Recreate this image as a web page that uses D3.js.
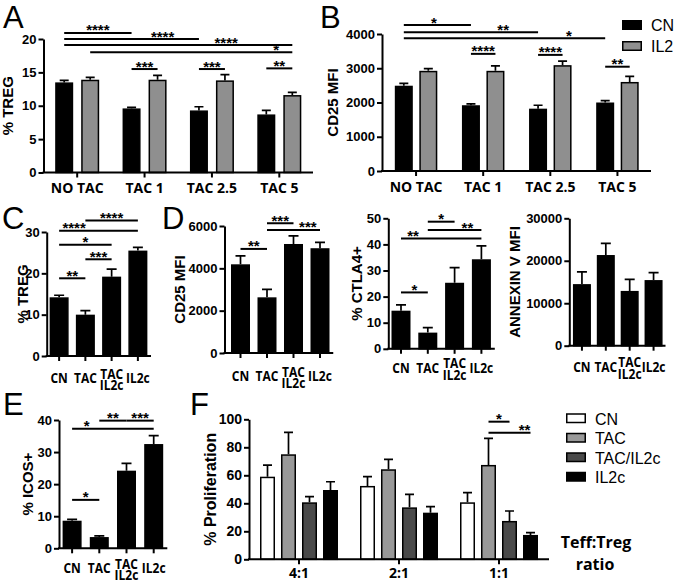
<!DOCTYPE html>
<html><head><meta charset="utf-8">
<script src="https://cdn.jsdelivr.net/npm/d3@7"></script>
<style>body{margin:0;background:#fff}svg{display:block}</style>
</head><body><svg id="c" width="677" height="584"></svg>
<script>
// ---------- DATA ----------
const catsTac = ["NO TAC", "TAC 1", "TAC 2.5", "TAC 5"];
const seriesAB = ["CN", "IL2"];
const aCN = [13.5, 9.6, 9.3, 8.7];
const aCNErr = [0.3, 0.15, 0.55, 0.6];
const aIL2 = [13.9, 13.9, 13.8, 11.6];
const aIL2Err = [0.35, 0.65, 0.85, 0.4];
const aTicks = [0, 5, 10, 15, 20];
// [group1, series1, group2, series2, level, label, labelPos]
const sigA = [[0,0,1,0,20.9,"****",0.5],[0,0,2,0,20.0,"****",0.73],[0,0,3,1,19.1,"****",0.71],[0,1,3,1,18.0,"*",0.92],[1,0,1,1,15.5,"***",0.5],[2,0,2,1,15.5,"***",0.5],[3,0,3,1,15.6,"**",0.5]];

const bCN = [2490, 1920, 1820, 2000];
const bCNErr = [70, 40, 100, 55];
const bIL2 = [2925, 2925, 3090, 2600];
const bIL2Err = [65, 145, 120, 160];
const bTicks = [0, 1000, 2000, 3000, 4000];
const sigB = [[0,0,1,0,4260,"*",0.45],[0,0,2,0,4050,"**",0.74],[0,0,3,0,3875,"*",0.82],[1,0,1,1,3420,"****",0.5],[2,0,2,1,3390,"****",0.5],[3,0,3,1,3045,"**",0.5]];

const cats4 = ["CN", "TAC", "TAC\nIL2c", "IL2c"];
const cTreg = [14.2, 10.0, 19.2, 25.5];
const cTregErr = [0.5, 1.0, 1.8, 0.8];
const cTicks = [0, 10, 20, 30];
const sigC = [[0,0,1,0,18.8,"**",0.5],[1,0,2,0,23.4,"***",0.5],[0,0,2,0,26.9,"*",0.5],[0,0,3,0,30.3,"****",0.19],[1,0,3,0,32.8,"****",0.5]];

const dCD25 = [4190, 2630, 5150, 4950];
const dCD25Err = [400, 380, 380, 280];
const dTicks = [0, 2000, 4000, 6000];
const sigD = [[0,0,1,0,4917,"**",0.5],[1,0,2,0,6130,"***",0.5],[1,0,3,0,5815,"***",0.77]];

const ctla4 = [14.6, 6.2, 25.3, 34.3];
const ctla4Err = [2.2, 1.9, 5.8, 5.1];
const ctTicks = [0, 10, 20, 30, 40, 50];
const sigCt = [[0,0,1,0,21.6,"*",0.5],[0,0,3,0,42.3,"**",0.15],[1,0,2,0,48.7,"*",0.5],[1,0,3,0,45.5,"**",0.74]];

const annexin = [14500, 21350, 12900, 15450];
const annexinErr = [2900, 2750, 2700, 1750];
const anTicks = [0, 10000, 20000, 30000];

const icos = [8.6, 3.5, 24.2, 32.5];
const icosErr = [0.4, 0.35, 2.3, 2.6];
const eTicks = [0, 10, 20, 30, 40];
const sigE = [[0,0,1,0,15.1,"*",0.5],[0,0,3,0,37.3,"*",0.18],[1,0,2,0,39.8,"**",0.5],[2,0,3,0,39.8,"***",0.5]];

const ratios = ["4:1", "2:1", "1:1"];
const seriesF = ["CN", "TAC", "TAC/IL2c", "IL2c"];
const fCN = [59, 52.4, 40.7];
const fCNErr = [8.2, 6.6, 6.9];
const fTAC = [75, 64.3, 67.4];
const fTACErr = [15.7, 7.1, 19];
const fTACIL2c = [40.7, 37.1, 27.4];
const fTACIL2cErr = [4.0, 9.3, 7.1];
const fIL2c = [49.5, 33.3, 17.4];
const fIL2cErr = [5.9, 4.3, 1.6];
const fTicks = [0, 20, 40, 60, 80, 100];
const sigF = [[2,1,2,2,98.3,"*",0.5],[2,1,2,3,90.4,"**",0.86]];

// ---------- DRAW ----------
const svg = d3.select("#c");
const AR = "'Liberation Sans', Arial, sans-serif";
const OS = "'Open Sans', sans-serif";

function condense(sel, k) {
  sel.each(function () {
    const w = this.getComputedTextLength();
    d3.select(this).attr("textLength", w * k).attr("lengthAdjust", "spacingAndGlyphs");
  });
}

function panel(p) {
  const n = p.cats.length;
  const x = d3.scaleBand().domain(d3.range(n)).range([p.x0, p.x1]);
  const y = d3.scaleLinear().domain([0, p.max]).range([p.y0, p.y1]);
  const m = p.series.length;
  const step = p.w + (p.gap || 0);
  const off = k => (k - (m - 1) / 2) * step;
  const cx = i => x(i) + x.bandwidth() / 2;
  const g = svg.append("g");
  p.series.forEach((s, k) => {
    g.selectAll(null).data(s.vals).enter().append("rect")
      .attr("x", (d, i) => cx(i) + off(k) - p.w / 2 + 0.75)
      .attr("width", p.w - 1.5)
      .attr("y", d => y(d) + 0.75)
      .attr("height", d => y(0) - y(d) - 0.75)
      .attr("fill", s.fill).attr("stroke", "#000").attr("stroke-width", 1.5);
    g.selectAll(null).data(s.vals).enter().append("path")
      .attr("d", (d, i) => {
        const xx = cx(i) + off(k), yt = y(d + s.errs[i]);
        return `M${xx},${y(d)}V${yt}M${xx - p.cap / 2},${yt}H${xx + p.cap / 2}`;
      })
      .attr("stroke", "#000").attr("stroke-width", 1.7).attr("fill", "none");
  });
  const ya = d3.axisLeft(y).tickValues(p.ticks).tickSize(5).tickSizeOuter(0).tickPadding(2).tickFormat(d3.format("d"));
  const yg = g.append("g").attr("transform", `translate(${p.ax},0)`).call(ya);
  yg.select(".domain").attr("stroke-width", 2).attr("stroke", "#000");
  yg.selectAll(".tick line").attr("stroke-width", 2).attr("stroke", "#000");
  yg.selectAll("text").attr("font-family", AR).attr("font-weight", "bold").attr("font-size", p.tickFs || 13).attr("fill", "#000");
  g.append("line").attr("x1", p.ax - 1).attr("x2", p.x1).attr("y1", y(0)).attr("y2", y(0))
    .attr("stroke", "#000").attr("stroke-width", 2);
  g.selectAll(null).data(d3.range(n)).enter().append("line")
    .attr("x1", cx).attr("x2", cx).attr("y1", y(0)).attr("y2", y(0) + 5)
    .attr("stroke", "#000").attr("stroke-width", 2);
  p.cats.forEach((c, i) => {
    const lines = c.split("\n");
    const t = g.append("text").attr("text-anchor", "middle").attr("font-family", OS)
      .attr("font-weight", "bold").attr("font-size", p.labFs || 14).attr("fill", "#000");
    if (lines.length === 1) {
      const ts = t.append("tspan").attr("x", cx(i)).attr("y", y(0) + p.lab).text(c);
      if (p.cond) condense(ts, p.cond);
    } else {
      lines.forEach((l, j) => {
        const ts = t.append("tspan").attr("x", cx(i)).attr("y", y(0) + p.lab - 4.5 + j * 11.3).text(l);
        if (p.cond) condense(ts, p.cond);
      });
    }
  });
  g.append("text").attr("transform", `translate(${p.tx},${(p.y0 + p.y1) / 2 + (p.tdy || 0)}) rotate(-90)`)
    .attr("text-anchor", "middle").attr("font-family", AR).attr("font-weight", "bold")
    .attr("font-size", p.titleFs || 15).attr("fill", "#000").text(p.title);
  (p.sig || []).forEach(s => {
    const xa = cx(s[0]) + off(s[1]), xb = cx(s[2]) + off(s[3]), yy = y(s[4]);
    g.append("line").attr("x1", xa).attr("x2", xb).attr("y1", yy).attr("y2", yy)
      .attr("stroke", "#000").attr("stroke-width", 2);
    g.append("text").attr("x", xa + (xb - xa) * s[6]).attr("y", yy + 2.5).attr("text-anchor", "middle")
      .attr("font-family", AR).attr("font-weight", "bold").attr("font-size", 15).attr("fill", "#000").text(s[5]);
  });
}

const GRAY = "#8f8f8f";
const small = {labFs: 15, cond: 0.8};
panel({cats: catsTac, x0: 43.5, x1: 313, ax: 43.5, y0: 172.5, y1: 39, max: 20, ticks: aTicks, w: 18, gap: 8, cap: 9, lab: 20.5,
  title: "% TREG", tx: 13, series: [{vals: aCN, errs: aCNErr, fill: "#000"}, {vals: aIL2, errs: aIL2Err, fill: GRAY}], sig: sigA});
panel({cats: catsTac, x0: 382.5, x1: 651, ax: 382, y0: 171, y1: 34, max: 4000, ticks: bTicks, w: 18, gap: 6.5, cap: 9, lab: 20.5,
  title: "CD25 MFI", tx: 338, series: [{vals: bCN, errs: bCNErr, fill: "#000"}, {vals: bIL2, errs: bIL2Err, fill: GRAY}], sig: sigB});
panel({...small, cats: cats4, x0: 46, x1: 151, ax: 46.7, y0: 356, y1: 232, max: 30, ticks: cTicks, w: 19, cap: 10, lab: 27,
  title: "% TREG", tx: 28, series: [{vals: cTreg, errs: cTregErr, fill: "#000"}], sig: sigC});
panel({...small, cats: cats4, x0: 227.25, x1: 333.25, ax: 224.5, y0: 353, y1: 226, max: 6000, ticks: dTicks, w: 19, cap: 10, lab: 28,
  title: "CD25 MFI", tx: 185, series: [{vals: dCD25, errs: dCD25Err, fill: "#000"}], sig: sigD});
panel({...small, cats: cats4, x0: 387.6, x1: 494.8, ax: 388.3, y0: 348.8, y1: 218.3, max: 50, ticks: ctTicks, w: 19, cap: 10, lab: 24,
  title: "% CTLA4+", tx: 362, series: [{vals: ctla4, errs: ctla4Err, fill: "#000"}], sig: sigCt});
panel({...small, cats: cats4, x0: 570, x1: 665.5, ax: 569.3, y0: 345.7, y1: 218.3, max: 30000, ticks: anTicks, w: 18, cap: 10, lab: 26,
  title: "ANNEXIN V MFI", tx: 520, series: [{vals: annexin, errs: annexinErr, fill: "#000"}], sig: []});
panel({...small, cats: cats4, x0: 58.5, x1: 167.3, ax: 59, y0: 548.3, y1: 420, max: 40, ticks: eTicks, w: 19, cap: 10, lab: 25,
  title: "% ICOS+", tx: 33, series: [{vals: icos, errs: icosErr, fill: "#000"}], sig: sigE});
panel({cats: ratios, x0: 249, x1: 549, ax: 249, y0: 559.3, y1: 419.3, max: 100, ticks: fTicks, w: 15, gap: 6, cap: 9, lab: 19, tickFs: 14,
  title: "% Proliferation", tx: 216, titleFs: 16,
  series: [{vals: fCN, errs: fCNErr, fill: "#fff"}, {vals: fTAC, errs: fTACErr, fill: "#999"},
           {vals: fTACIL2c, errs: fTACIL2cErr, fill: "#4a4a4a"}, {vals: fIL2c, errs: fIL2cErr, fill: "#000"}], sig: sigF});

// legends
const legB = svg.append("g");
seriesAB.forEach((s, i) => {
  legB.append("rect").attr("x", 622.75).attr("y", 20.75 + i * 21).attr("width", 18.5).attr("height", 8.5)
    .attr("fill", i ? GRAY : "#000").attr("stroke", "#000").attr("stroke-width", 1.5);
  legB.append("text").attr("x", 651).attr("y", 31 + i * 21).attr("font-family", AR).attr("font-size", 16).attr("fill", "#000").text(s);
});
const fFills = ["#fff", "#999", "#4a4a4a", "#000"];
const legF = svg.append("g");
seriesF.forEach((s, i) => {
  legF.append("rect").attr("x", 566.75).attr("y", 414 + i * 19.5).attr("width", 18.5).attr("height", 8.5)
    .attr("fill", fFills[i]).attr("stroke", "#000").attr("stroke-width", 1.5);
  legF.append("text").attr("x", 595).attr("y", 424.5 + i * 19.5).attr("font-family", AR).attr("font-size", 16).attr("fill", "#000").text(s);
});
svg.append("text").attr("x", 596).attr("y", 548).attr("text-anchor", "middle").attr("font-family", OS).attr("font-weight", "bold").attr("font-size", 16).text("Teff:Treg");
svg.append("text").attr("x", 595).attr("y", 570).attr("text-anchor", "middle").attr("font-family", OS).attr("font-weight", "bold").attr("font-size", 16).text("ratio");

// panel letters
const letters = [["A", 3, 28], ["B", 320, 28], ["C", 2, 229], ["D", 162, 229], ["E", 3, 415], ["F", 190, 415]];
letters.forEach(l => svg.append("text").attr("x", l[1]).attr("y", l[2]).attr("font-family", AR).attr("font-size", 31).attr("fill", "#000").text(l[0]));
</script></body></html>
